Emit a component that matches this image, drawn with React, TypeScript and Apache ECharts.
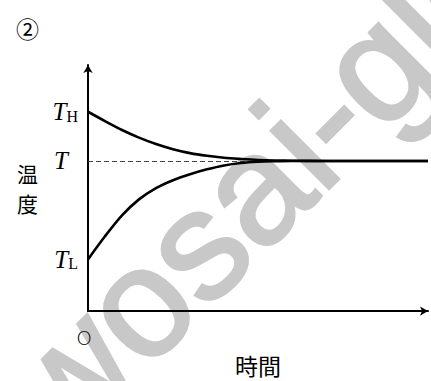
import React, { useEffect, useRef } from "react";
import * as echarts from "echarts";

// time samples (arbitrary units) and temperatures
const timeValues = [0, 5, 10, 15, 20, 25, 30, 35, 40, 45, 50, 55, 60, 70, 100];
const hotSeries = [81, 77.2, 73.6, 70.5, 67.9, 65.8, 64.2, 63.1, 62.3, 61.8, 61.4, 61.2, 61.1, 61, 61];
const coldSeries = [21, 30.4, 38.9, 45.4, 50, 53.2, 55.6, 57.6, 59.2, 60.2, 60.7, 60.9, 61, 61, 61];
const finalTemp = 61;
const tempTicks = [21, 61, 81];
const tempTickLabels = ["{t|T}{s|L}", "{t|T}{sp|}", "{t|T}{s|H}"];
const yName = "温\n度";
const xName = "時間";
const originLabel = "O";
const panelLabel = "②";
const watermark = "wosai-global";

export default function App() {
  const ref = useRef<HTMLDivElement>(null);
  useEffect(() => {
    if (!ref.current) return;
    const chart = echarts.init(ref.current, undefined, { renderer: "svg" });
    const hot = timeValues.map((t, i) => [t, hotSeries[i]]);
    const cold = timeValues.map((t, i) => [t, coldSeries[i]]);
    chart.setOption({
      animation: false,
      backgroundColor: "#fff",
      title: {
        text: panelLabel,
        left: 11,
        top: 11,
        textStyle: { fontSize: 23, fontWeight: "normal", fontFamily: "Noto Sans CJK JP", color: "#000" },
      },
      graphic: [
        {
          type: "text",
          x: 28,
          y: 414,
          rotation: Math.PI / 4,
          z: -10,
          silent: true,
          style: {
            text: watermark,
            fontSize: 155,
            fontFamily: "Liberation Sans",
            fill: "#c8c8c8",
            stroke: "#c8c8c8",
            lineWidth: 3,
            align: "left",
            verticalAlign: "middle",
          },
        },
      ],
      grid: { left: 88, right: 3, top: 65, bottom: 53 },
      xAxis: {
        type: "value",
        min: 0,
        max: 100,
        name: xName,
        nameLocation: "middle",
        nameGap: 17,
        nameTextStyle: { fontSize: 23, fontFamily: "Noto Sans CJK JP", color: "#000" },
        axisLine: {
          show: true,
          symbol: ["none", "arrow"],
          symbolSize: [7, 8],
          lineStyle: { color: "#000", width: 2 },
        },
        axisTick: { show: false },
        splitLine: { show: false },
        axisLabel: {
          customValues: [0],
          formatter: () => originLabel,
          margin: 17,
          padding: [0, 8, 0, 0],
          fontSize: 20,
          fontFamily: "DejaVu Sans",
          fontWeight: 200,
          color: "#000",
        },
      },
      yAxis: {
        type: "value",
        min: 0,
        max: 100,
        name: yName,
        nameLocation: "middle",
        nameRotate: 0,
        nameGap: 50,
        nameTextStyle: { fontSize: 21, lineHeight: 30.5, fontFamily: "Noto Sans CJK JP", color: "#000" },
        axisLine: {
          show: true,
          symbol: ["none", "arrow"],
          symbolSize: [7, 8],
          lineStyle: { color: "#000", width: 2 },
        },
        axisTick: { show: false },
        splitLine: { show: false },
        axisLabel: {
          customValues: tempTicks,
          margin: 10,
          formatter: (v: number) => tempTickLabels[tempTicks.indexOf(v)] ?? "",
          rich: {
            t: { fontSize: 25, fontFamily: "Liberation Serif", fontStyle: "italic", color: "#000" },
            s: { fontSize: 16, fontFamily: "Liberation Serif", color: "#000", verticalAlign: "bottom" },
            sp: { width: 10 },
          },
        },
      },
      series: [
        {
          type: "line",
          data: hot,
          showSymbol: false,
          smooth: 0.3,
          lineStyle: { color: "#000", width: 2.6 },
          z: 3,
          markLine: {
            silent: true,
            symbol: ["none", "none"],
            label: { show: false },
            lineStyle: { color: "#444", width: 1, type: [5, 3] },
            data: [{ yAxis: finalTemp }],
            z: 2,
          },
        },
        {
          type: "line",
          data: cold,
          showSymbol: false,
          smooth: 0.3,
          lineStyle: { color: "#000", width: 2.6 },
          z: 3,
        },
      ],
    });
    return () => chart.dispose();
  }, []);
  return <div ref={ref} style={{ position: "fixed", left: 0, top: 0, width: 431, height: 381 }} />;
}
